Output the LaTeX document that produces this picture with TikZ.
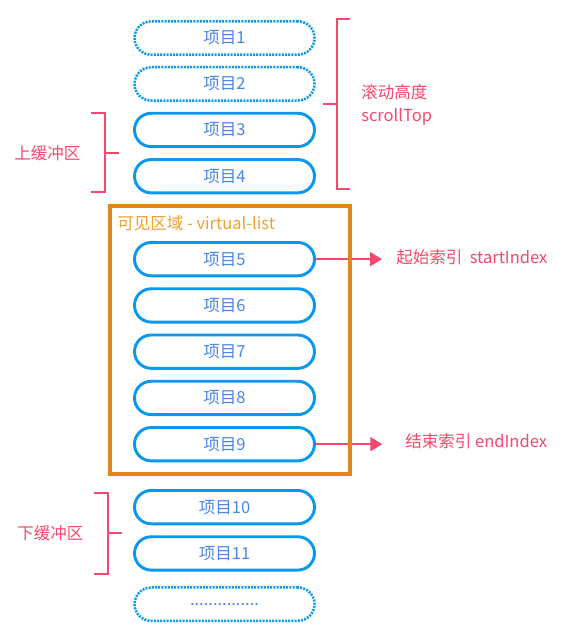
\documentclass[tikz,border=0pt]{standalone}
\usepackage{fontspec}
\newfontfamily\cjk{Noto Sans CJK SC}
\usepackage{tikz}
\usetikzlibrary{arrows.meta, positioning}
\usepackage{xcolor}
\definecolor{ItemBlue}{HTML}{0A98EE}
\definecolor{ItemText}{HTML}{4A86E8}
\definecolor{MarkRed}{HTML}{F4486C}
\definecolor{BoxOrange}{HTML}{E6861A}
\definecolor{TitleOrange}{HTML}{F0A030}

\begin{document}
\begin{tikzpicture}[
    % Global Styles
    x=0.75pt, y=-0.75pt,
    node distance=7.5pt,
    font=\cjk\fontsize{12.4pt}{14pt}\selectfont,
    % Styles for the list items
    item/.style={
        rectangle,
        rounded corners=12.5pt,
        draw=ItemBlue,
        line width=2.2pt,
        minimum height=25pt,
        minimum width=135pt,
        text=ItemText,
        align=center
    },
    ghost/.style={
        item,
        line width=1.9pt,
        dash pattern=on 1.5pt off 0.9pt
    },
    % Visible area frame
    viewport/.style={
        rectangle,
        draw=BoxOrange,
        line width=3pt,
        minimum width=180pt,
        minimum height=201pt,
        inner sep=0pt
    },
    % Red labels and brackets
    redlabel/.style={
        text=MarkRed,
        inner sep=0pt,
        anchor=west
    },
    brace/.style={
        draw=MarkRed,
        line width=2.2pt,
        line cap=butt,
        line join=miter
    },
    % Connector line style
    conn/.style={
        draw=MarkRed,
        -{Triangle[length=9pt,width=10.5pt]},
        line width=1.5pt
    }
]
    \useasboundingbox (0,0) rectangle (574,638);

    % --- Nodes ---

    % 1. Scrolled out items
    \node[ghost] (item1) at (224.5,38) {项目1};
    \node[ghost, below=of item1] (item2) {项目2};

    % 2. Upper buffer
    \node[item, below=of item2] (item3) {项目3};
    \node[item, below=of item3] (item4) {项目4};

    % 3. Visible items
    \node[item, below=35pt of item4] (item5) {项目5};
    \node[item, below=of item5] (item6) {项目6};
    \node[item, below=of item6] (item7) {项目7};
    \node[item, below=of item7] (item8) {项目8};
    \node[item, below=of item8] (item9) {项目9};

    % 4. Lower buffer
    \node[item, below=20pt of item9] (item10) {项目10};
    \node[item, below=of item10] (item11) {项目11};

    % 5. Rest of the list
    \node[ghost, below=11pt of item11] (more) {...............};

    % --- Labels ---
    \node[redlabel] (scrollcn) at (361,92) {滚动高度};
    \node[redlabel] (scrollen) at (361,117) {scrollTop};
    \node[redlabel] (upbuf) at (14,153) {上缓冲区};
    \node[redlabel] (downbuf) at (17,533) {下缓冲区};
    \node[redlabel] (startidx) at (396,257) {起始索引\ \ startIndex};
    \node[redlabel] (endidx) at (405,441) {结束索引 endIndex};

    % --- Edges ---

    % Item5 -> start index
    \draw[conn, shorten >=10.5pt] (item5.east) -- (item5.east -| startidx.west);

    % Item9 -> end index
    \draw[conn, shorten >=17pt] (item9.east) -- (item9.east -| endidx.west);

    % --- Frame (over the arrows) ---
    \node[viewport] (view) at (230,339.5) {};
    \node[anchor=north west, text=TitleOrange, inner sep=0pt] (viewtitle) at (117,215) {可见区域 - virtual-list};

    % --- Brackets ---

    % scrollTop bracket
    \draw[brace] (350,19) -- (337,19) -- (337,189) -- (350,189);
    \draw[brace] (337,104) -- (323,104);

    % Upper buffer bracket
    \draw[brace] (91,113) -- (105,113) -- (105,192) -- (91,192);
    \draw[brace] (105,153) -- (119,153);

    % Lower buffer bracket
    \draw[brace] (94,493) -- (108,493) -- (108,574) -- (94,574);
    \draw[brace] (108,533) -- (122,533);

\end{tikzpicture}
\end{document}
